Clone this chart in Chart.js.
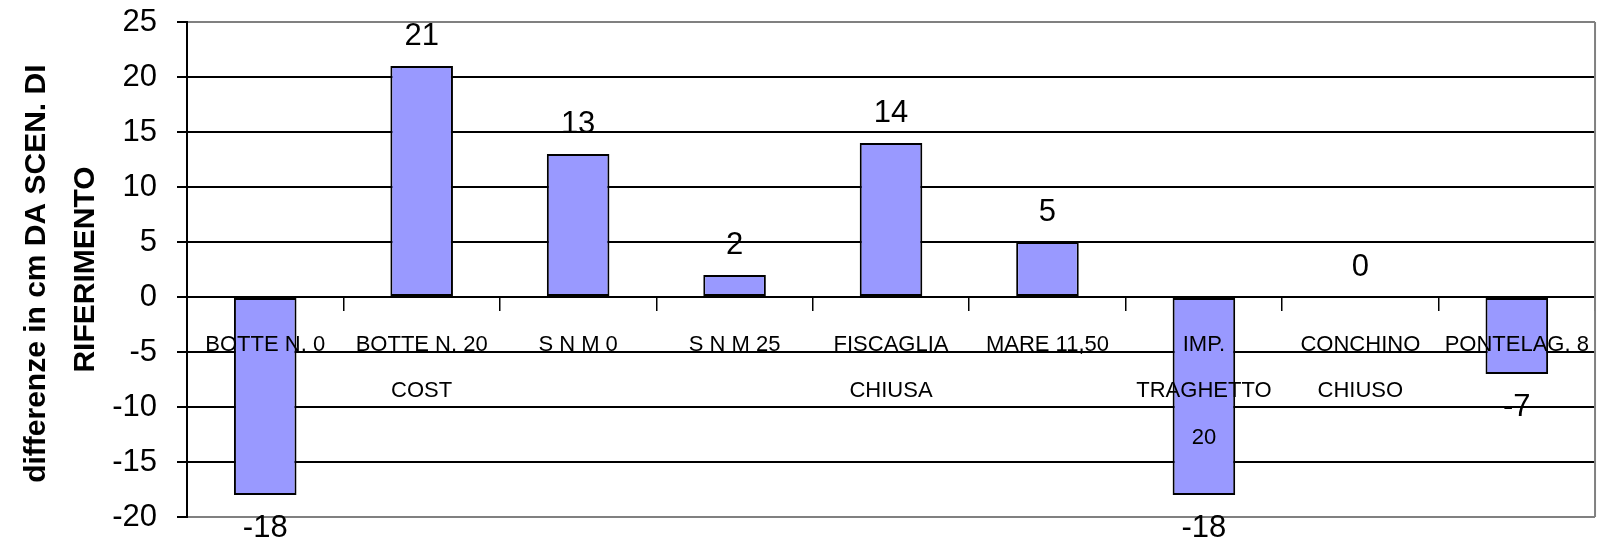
<!DOCTYPE html>
<html>
<head>
<meta charset="utf-8">
<script src="https://cdn.jsdelivr.net/npm/chart.js@4.4.0/dist/chart.umd.min.js"></script>
<style>
  html, body { margin: 0; padding: 0; background: #ffffff; }
  canvas { display: block; }
</style>
</head>
<body>
<canvas id="chart" width="1601" height="540"></canvas>
<script>
// Stations (multi-line category labels)
const categories = [
  ['BOTTE N. 0'],
  ['BOTTE N. 20', 'COST'],
  ['S N M 0'],
  ['S N M 25'],
  ['FISCAGLIA', 'CHIUSA'],
  ['MARE 11,50'],
  ['IMP.', 'TRAGHETTO', '20'],
  ['CONCHINO', 'CHIUSO'],
  ['PONTELAG. 8']
];

// Difference in cm from the reference scenario
const differences = [-18, 21, 13, 2, 14, 5, -18, 0, -7];

// Value axis range and tick step
const yMin = -20;
const yMax = 25;
const yStep = 5;

const yTitle = ['differenze in cm DA SCEN. DI ', 'RIFERIMENTO'];

const FONT = '"Liberation Sans", Arial, Helvetica, sans-serif';
const NUMBER_SIZE = 31;

// Writes each bar's value above (positive) or below (negative) the bar
const valueLabels = {
  id: 'valueLabels',
  afterDatasetsDraw(chart) {
    const { ctx } = chart;
    const yScale = chart.scales.y;
    const values = chart.data.datasets[0].data;
    const meta = chart.getDatasetMeta(0);
    ctx.save();
    ctx.font = NUMBER_SIZE + 'px ' + FONT;
    ctx.fillStyle = '#000000';
    ctx.textAlign = 'center';
    ctx.textBaseline = 'middle';
    meta.data.forEach((bar, i) => {
      const v = values[i];
      const py = yScale.getPixelForValue(v);
      const ly = v >= 0 ? py - 30 : py + 33;
      ctx.fillText(String(v), bar.x, ly);
    });
    ctx.restore();
  }
};

// Grey frame on the right side of the plot area
const plotFrame = {
  id: 'plotFrame',
  beforeDatasetsDraw(chart) {
    const { ctx, chartArea } = chart;
    ctx.save();
    ctx.strokeStyle = '#808080';
    ctx.lineWidth = 2;
    ctx.beginPath();
    ctx.moveTo(chartArea.right, chartArea.top);
    ctx.lineTo(chartArea.right, chartArea.bottom);
    ctx.stroke();
    ctx.restore();
  }
};

const isEdge = (c) => c.tick && (c.tick.value === yMax || c.tick.value === yMin);

new Chart(document.getElementById('chart'), {
  type: 'bar',
  data: {
    labels: categories,
    datasets: [{
      data: differences,
      backgroundColor: '#9999FF',
      borderColor: '#000000',
      borderWidth: 2,
      borderSkipped: false,
      barPercentage: 0.4,
      categoryPercentage: 1.0
    }]
  },
  options: {
    responsive: false,
    animation: false,
    layout: { padding: { left: 0, right: 1, top: 22, bottom: 23 } },
    plugins: {
      legend: { display: false },
      tooltip: { enabled: false }
    },
    scales: {
      x: {
        type: 'category',
        position: { y: 0 },
        offset: true,
        grid: {
          display: true,
          drawOnChartArea: false,
          offset: true,
          tickLength: 13,
          color: '#000000',
          lineWidth: 1.5
        },
        border: { display: true, color: '#000000', width: 2 },
        ticks: {
          z: 1,
          autoSkip: false,
          maxRotation: 0,
          minRotation: 0,
          padding: 12,
          color: '#000000',
          font: { family: FONT, size: 22, lineHeight: 2.1 }
        }
      },
      y: {
        position: 'left',
        min: yMin,
        max: yMax,
        afterFit(scale) {
          scale.width = 187;
          scale.paddingTop = 0;
          scale.paddingBottom = 0;
        },
        ticks: {
          stepSize: yStep,
          padding: 20,
          color: '#000000',
          font: { family: FONT, size: NUMBER_SIZE }
        },
        grid: {
          color: (c) => isEdge(c) ? '#808080' : '#000000',
          lineWidth: 2,
          tickColor: '#000000',
          tickLength: 10
        },
        border: { display: true, color: '#000000', width: 2 },
        title: {
          display: true,
          text: yTitle,
          color: '#000000',
          padding: { top: 12, bottom: 0 },
          font: { family: FONT, size: 30, weight: 'bold', lineHeight: 1.63 }
        }
      }
    }
  },
  plugins: [plotFrame, valueLabels]
});
</script>
</body>
</html>
